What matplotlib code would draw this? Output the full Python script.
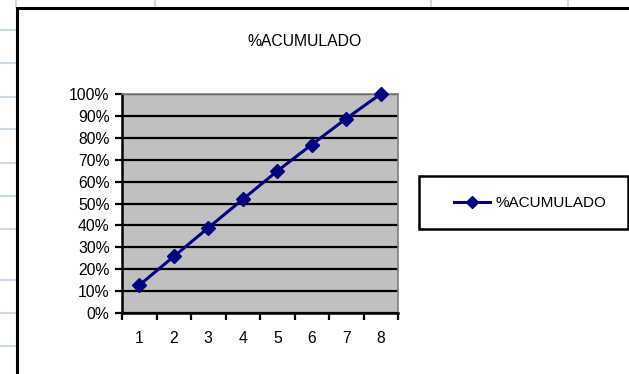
import matplotlib

matplotlib.use("Agg")

import matplotlib.pyplot as plt
from matplotlib.lines import Line2D
from matplotlib.patches import Rectangle
from matplotlib.ticker import FixedLocator, PercentFormatter

plt.rcParams["font.family"] = ["Liberation Sans", "DejaVu Sans"]

# ---------------------------------------------------------------------------
#  data  ---------------------------------------------------------------------
# ---------------------------------------------------------------------------
categories = ["1", "2", "3", "4", "5", "6", "7", "8"]
acumulado = [0.127, 0.258, 0.389, 0.519, 0.648, 0.769, 0.888, 1.0]
series_name = "%ACUMULADO"
y_ticks = [i / 10 for i in range(11)]

# ---------------------------------------------------------------------------
#  figure  -------------------------------------------------------------------
# ---------------------------------------------------------------------------
W, H = 629, 374
fig = plt.figure(figsize=(W / 100, H / 100), dpi=100)
fig.patch.set_facecolor("white")


def fx(px):
    return px / W


def fy(py):
    return 1 - py / H


# spreadsheet cell lines behind the chart
grid_col = "#D0D8E6"
for y in [30, 63, 97, 129, 163, 196, 229, 280, 313, 346]:
    fig.add_artist(Line2D([0, fx(16)], [fy(y), fy(y)], color=grid_col, lw=1.5, zorder=-3))
for x in [16, 155, 431, 568]:
    fig.add_artist(Line2D([fx(x), fx(x)], [1, fy(7)], color=grid_col, lw=1.5, zorder=-3))

# chart area border
fig.add_artist(Rectangle((fx(17), -0.1), 1.2, fy(8) + 0.1, transform=fig.transFigure,
                         facecolor="white", edgecolor="black", lw=2.2, zorder=-2))

ax = fig.add_axes([fx(122), fy(313), fx(398) - fx(122), fy(94) - fy(313)])
ax.set_facecolor("#C0C0C0")

x = [i + 0.5 for i in range(len(categories))]
line, = ax.plot(x, acumulado, color="#000080", lw=2.2, marker="D", markersize=7,
                clip_on=False, zorder=5)

ax.set_xlim(0, len(categories))
ax.set_ylim(0, 1)

ax.yaxis.set_major_locator(FixedLocator(y_ticks))
ax.yaxis.set_major_formatter(PercentFormatter(1.0, decimals=0))
ax.grid(axis="y", color="black", lw=1.6)
ax.set_axisbelow(True)

ax.xaxis.set_major_locator(FixedLocator(range(len(categories) + 1)))
ax.xaxis.set_minor_locator(FixedLocator(x))
ax.set_xticklabels([])
ax.set_xticklabels(categories, minor=True)
ax.tick_params(axis="x", which="major", length=5, width=1.6, color="black")
ax.tick_params(axis="x", which="minor", length=0, pad=13, labelsize=11.3)
ax.tick_params(axis="y", length=5, width=1.6, labelsize=11.3, pad=4)

for side in ["top", "right"]:
    ax.spines[side].set_color("#808080")
    ax.spines[side].set_linewidth(1.2)
for side in ["left", "bottom"]:
    ax.spines[side].set_color("black")
    ax.spines[side].set_linewidth(1.8)

fig.text(fx(305), fy(41), series_name, ha="center", va="center", fontsize=11.3)

# legend box
fig.add_artist(Rectangle((fx(419), fy(229)), fx(628) - fx(419), fy(176) - fy(229),
                         transform=fig.transFigure, facecolor="white",
                         edgecolor="black", lw=1.8, zorder=3))
fig.legend([line], [series_name], loc="center left",
           bbox_to_anchor=(fx(440), fy(203)), frameon=False, fontsize=11,
           handlelength=2.4, handletextpad=0.3, markerscale=0.9)

fig.savefig("out.png", dpi=100)
